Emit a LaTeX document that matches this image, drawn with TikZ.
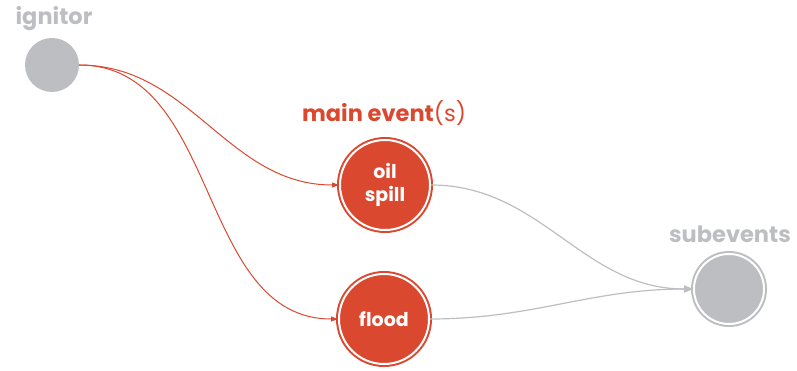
\documentclass[tikz,border=0pt]{standalone}
\usepackage{fontspec}
\setmainfont{Poppins}
\usetikzlibrary{arrows.meta}
\definecolor{evred}{HTML}{D9482F}
\definecolor{evgrey}{HTML}{BCBEC1}
\begin{document}
\begin{tikzpicture}[x=1pt,y=-1pt,
  lbl/.style={font=\bfseries\fontsize{22.5}{26}\selectfont},
  plain/.style={circle,fill=evgrey,minimum size=54pt,inner sep=0pt},
  ringed/.style={circle,draw=#1,fill=#1,double=white,double distance=2pt,line width=2pt,inner sep=0pt},
  evnode/.style={ringed=evred,minimum size=90pt,text=white,align=center,font=\bfseries\fontsize{19}{23}\selectfont},
  subnode/.style={ringed=evgrey,minimum size=70pt},
  redlink/.style={evred,line width=1pt,-{Triangle[length=7pt,width=5pt]}},
  greylink/.style={evgrey,line width=1.2pt,-{Triangle[length=9pt,width=7pt]}}]
  \useasboundingbox (0,0) rectangle (797,371);

  % nodes
  \node[plain] (ign) at (52,65) {};
  \node[lbl,text=evgrey] (ignlbl) at (54,19) {ignitor};

  \node[evnode] (oil) at (385,185) {oil\\spill};
  \node[evnode] (flood) at (384,319) {flood};
  \node[lbl,text=evred] (mainlbl) at (384,113) {main event{\mdseries(s)}};

  \node[subnode] (sub) at (729,289) {};
  \node[lbl,text=evgrey] (sublbl) at (730,234) {subevents};

  % connectors
  \draw[redlink] (ign.east) to[out=0,in=180] (oil.west);
  \draw[redlink] (ign.east) to[out=0,in=180] (flood.west);
  \draw[greylink] (oil.east) to[out=0,in=180] (sub.west);
  \draw[greylink] (flood.east) to[out=0,in=180] (sub.west);
\end{tikzpicture}
\end{document}
